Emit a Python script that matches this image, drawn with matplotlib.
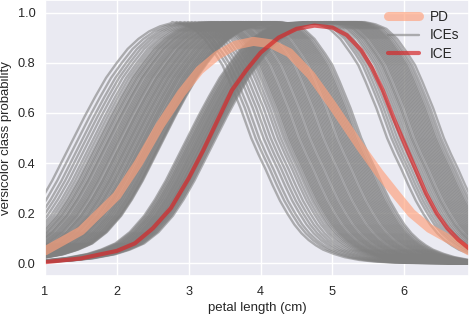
import numpy as np
import matplotlib.pyplot as plt
import seaborn as sns

sns.set_theme(style='darkgrid')
plt.rcParams['font.family'] = ['Liberation Sans', 'DejaVu Sans']

# shape of one ICE curve around its rising and falling 0.5 points
rise_dx = [-3.0, -2.5, -2.0, -1.7, -1.4, -1.2, -1.0, -0.8, -0.6, -0.45, -0.3, -0.15, 0.0,
           0.15, 0.3, 0.45, 0.6, 0.75, 0.9, 1.05, 1.2, 1.35]
rise_y = [0.001, 0.004, 0.012, 0.021, 0.037, 0.055, 0.08, 0.125, 0.19, 0.255, 0.33, 0.415, 0.50,
          0.585, 0.665, 0.74, 0.80, 0.855, 0.895, 0.925, 0.945, 0.957]
fall_dx = [-1.1, -0.95, -0.8, -0.65, -0.5, -0.4, -0.3, -0.15, 0.0, 0.1, 0.2, 0.3, 0.4, 0.5,
           0.6, 0.7, 0.8, 0.9, 1.0, 1.15, 1.3, 1.5, 1.7, 2.0, 2.5, 3.0]
fall_y = [0.962, 0.953, 0.935, 0.895, 0.835, 0.79, 0.725, 0.62, 0.50, 0.435, 0.375, 0.31, 0.25, 0.20,
          0.155, 0.12, 0.093, 0.072, 0.055, 0.038, 0.025, 0.014, 0.008, 0.003, 0.001, 0.0]

# petal length where each gray ICE curve crosses 0.5 going up / going down
rise_centres = [1.40, 1.47, 1.53, 1.58, 1.63, 1.68, 1.72,
                1.76, 1.78, 1.81, 1.83, 1.85, 1.88, 1.90, 1.91, 1.94, 1.96,
                1.98, 2.00, 2.02, 2.04, 2.05, 2.08, 2.10, 2.11, 2.13, 2.15,
                2.17, 2.19, 2.20, 2.22, 2.24, 2.26, 2.27, 2.29, 2.31, 2.33,
                2.34, 2.36, 2.38, 2.39, 2.41, 2.42, 2.44, 2.46, 2.47, 2.49,
                2.50, 2.52, 2.53, 2.55, 2.56, 2.58, 2.59, 2.60, 2.62, 2.63,
                2.64, 2.65, 2.66,
                2.98, 3.00, 3.02, 3.04, 3.05, 3.07, 3.08, 3.10, 3.11, 3.13,
                3.14, 3.15, 3.17, 3.18, 3.19, 3.21, 3.22, 3.23, 3.24, 3.26,
                3.27, 3.28, 3.29, 3.30, 3.31, 3.32, 3.33, 3.35, 3.36, 3.38]
fall_centres = [3.87, 3.93, 3.98, 4.04, 4.09, 4.14, 4.19, 4.24, 4.28, 4.32,
                4.35, 4.38, 4.40, 4.42, 4.44, 4.46, 4.48, 4.50, 4.52, 4.55,
                4.57, 4.59, 4.61, 4.63, 4.65, 4.67, 4.70, 4.72, 4.74, 4.76,
                4.78, 4.80, 4.82, 4.84, 4.86, 4.89, 4.91, 4.93, 4.95, 4.97,
                4.99, 5.01, 5.03, 5.05, 5.08, 5.10, 5.12, 5.14, 5.16, 5.18,
                5.20, 5.22, 5.24, 5.26, 5.28, 5.30, 5.32, 5.34, 5.37, 5.40,
                5.76, 5.82, 5.86, 5.90, 5.94, 5.99, 6.02, 6.05, 6.08, 6.10,
                6.12, 6.15, 6.17, 6.19, 6.21, 6.23, 6.25, 6.27, 6.29, 6.31,
                6.33, 6.35, 6.37, 6.39, 6.41, 6.43, 6.45, 6.48, 6.51, 6.55]

# highlighted ICE curve
ice_x = [1.0, 1.5, 2.0, 2.25, 2.5, 2.75, 3.0, 3.2, 3.4, 3.6, 3.8, 4.0, 4.25, 4.5,
         4.75, 5.0, 5.2, 5.4, 5.55, 5.7, 5.85, 6.0, 6.15, 6.3, 6.45, 6.6, 6.75, 6.9]
ice_y = [0.005, 0.02, 0.05, 0.08, 0.14, 0.22, 0.34, 0.45, 0.57, 0.69, 0.77, 0.84, 0.90, 0.935,
         0.948, 0.94, 0.91, 0.85, 0.78, 0.69, 0.58, 0.48, 0.38, 0.28, 0.20, 0.14, 0.095, 0.06]

# partial dependence
pd_x = [1.0, 1.5, 2.0, 2.3, 2.6, 2.9, 3.15, 3.4, 3.65, 3.9, 4.15, 4.4, 4.7, 5.0,
        5.4, 5.65, 5.9, 6.1, 6.35, 6.6, 6.9]
pd_y = [0.05, 0.13, 0.27, 0.40, 0.55, 0.68, 0.77, 0.83, 0.87, 0.885, 0.875, 0.84, 0.75, 0.63,
        0.46, 0.36, 0.27, 0.20, 0.14, 0.10, 0.05]

fig = plt.figure(figsize=(4.7, 3.16), dpi=100)
ax = fig.add_axes([45 / 470, 40 / 316, 424 / 470, 276 / 316])

rise_dx = np.array(rise_dx)
fall_dx = np.array(fall_dx)
for r, f in zip(rise_centres, fall_centres):
    xs = np.concatenate([rise_dx + r, fall_dx + f])
    ys = np.concatenate([rise_y, fall_y])
    l_ices, = ax.plot(xs, ys, color='gray', alpha=0.6, lw=1.7)

l_pd, = ax.plot(pd_x, pd_y, color='lightsalmon', alpha=0.65, lw=6.5, solid_capstyle='round')
l_ice, = ax.plot(ice_x, ice_y, color='tab:red', alpha=0.7, lw=3)

ax.set_xlim(1, 6.9)
ax.set_ylim(-0.05, 1.05)
ax.set_xticks([1, 2, 3, 4, 5, 6])
ax.set_yticks([0.0, 0.2, 0.4, 0.6, 0.8, 1.0])
ax.tick_params(axis='both', length=0, labelsize=9.2)
ax.tick_params(axis='x', pad=7)
ax.tick_params(axis='y', pad=7)
ax.set_xlabel('petal length (cm)', fontsize=9.5, labelpad=3)
ax.set_ylabel('versicolor class probability', fontsize=9.5, labelpad=4)

ax.legend([l_pd, l_ices, l_ice], ['PD', 'ICEs', 'ICE'], loc='upper right',
          frameon=False, fontsize=9.8, handlelength=2.3, labelspacing=0.35,
          borderaxespad=0.3)

fig.savefig('out.png', dpi=100)
